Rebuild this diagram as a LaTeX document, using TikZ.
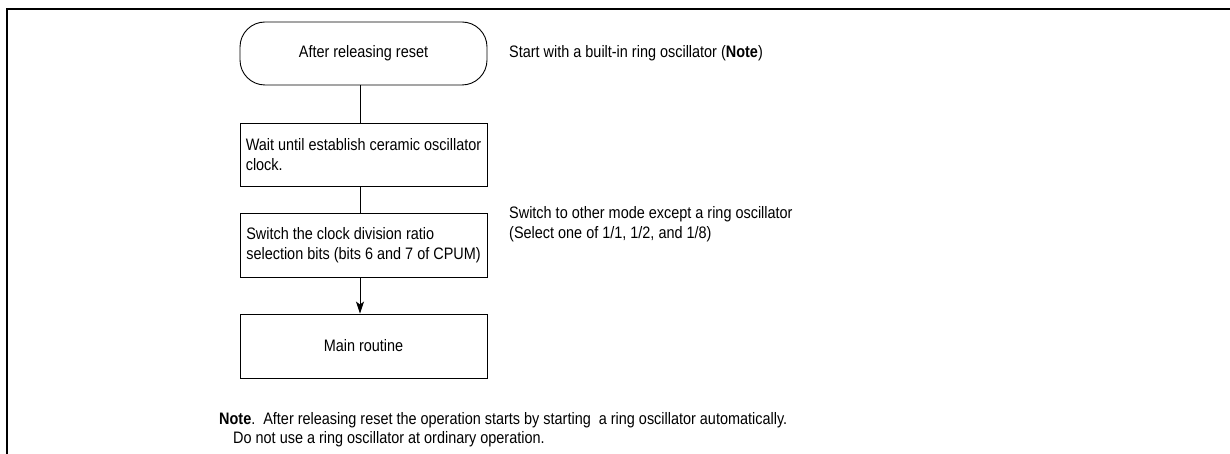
\documentclass[tikz,border=0pt]{standalone}
\usepackage{fontspec}
\setmainfont{Liberation Sans}[FakeStretch=0.87]
\usetikzlibrary{arrows.meta}
\begin{document}
\begin{tikzpicture}[x=1pt,y=-1pt,
  every node/.style={font=\fontsize{16.6pt}{20.5pt}\selectfont, inner sep=0pt},
  flowbox/.style={draw, line width=0.9pt, minimum width=247pt, minimum height=63pt, align=left},
  termbox/.style={flowbox, rounded corners=25pt, align=center},
  remark/.style={anchor=west, align=left, text height=12.5pt, text depth=3.5pt},
  conn/.style={line width=0.9pt},
  frameline/.style={line width=2.5pt}
]
\useasboundingbox (0,0) rectangle (1230,454);
% frame
\draw[frameline] (7,454) -- (7,9) -- (1230,9);
% flow nodes
\node[termbox] (start) at (363.5,53.5) {After releasing reset};
\node[flowbox] (wait) at (363.5,154.5) {Wait until establish ceramic oscillator\\clock.};
\node[flowbox, minimum height=64pt] (switch) at (363.5,245) {Switch the clock division ratio\\selection bits (bits 6 and 7 of CPUM)};
\node[flowbox, minimum height=64pt, align=center] (main) at (363.5,346) {Main routine};
% remarks
\node[remark] (r1) at (509,53) {Start with a built-in ring oscillator (\textbf{Note})};
\node[remark] (r2) at (509,234) {Switch to other mode except a ring oscillator\\(Select one of 1/1, 1/2, and 1/8)};
\node[remark] (n1) at (219,420) {\textbf{Note}.\ \ After releasing reset the operation starts by starting\ \ a ring oscillator automatically.};
\node[remark] (n2) at (233,439) {Do not use a ring oscillator at ordinary operation.};
% connectors
\coordinate (cx) at (360,0);
\draw[conn] (start.south -| cx) -- (wait.north -| cx);
\draw[conn] (wait.south -| cx) -- (switch.north -| cx);
\draw[conn, -{Stealth[length=12pt,width=8pt,inset=3pt]}] (switch.south -| cx) -- (main.north -| cx);
\end{tikzpicture}
\end{document}
